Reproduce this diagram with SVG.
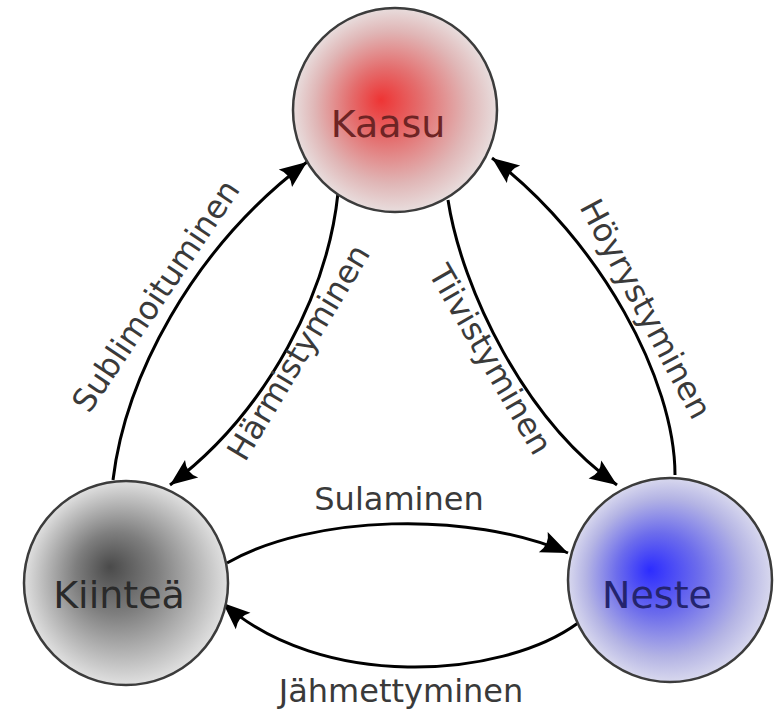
<svg xmlns="http://www.w3.org/2000/svg" width="777" height="712" viewBox="0 0 777 712">
  <style>
    .node { stroke: #3c3c3c; stroke-width: 2.5; }
    .nlabel { font-family: "DejaVu Sans", "Liberation Sans", sans-serif; font-size: 38px; text-anchor: middle; }
    .elabel { font-family: "DejaVu Sans", "Liberation Sans", sans-serif; font-size: 32px; text-anchor: middle; fill: #3a3a3a; }
    .edge { fill: none; stroke: #000; stroke-width: 3; marker-end: url(#arrow); }
  </style>
  <defs>
    <radialGradient id="gRed" cx="0.5" cy="0.5" r="0.5" fx="0.43" fy="0.45">
      <stop offset="0" stop-color="#ee3434"/>
      <stop offset="0.35" stop-color="#e46e6e"/>
      <stop offset="0.75" stop-color="#e0b6b6"/>
      <stop offset="1" stop-color="#e8dddd"/>
    </radialGradient>
    <radialGradient id="gGray" cx="0.5" cy="0.5" r="0.5" fx="0.42" fy="0.42">
      <stop offset="0" stop-color="#4a4a4a"/>
      <stop offset="0.4" stop-color="#7e7e7e"/>
      <stop offset="0.78" stop-color="#bcbcbc"/>
      <stop offset="1" stop-color="#e0e0e0"/>
    </radialGradient>
    <radialGradient id="gBlue" cx="0.5" cy="0.5" r="0.5" fx="0.4" fy="0.45">
      <stop offset="0" stop-color="#2c2cff"/>
      <stop offset="0.4" stop-color="#6c6cec"/>
      <stop offset="0.78" stop-color="#b4b4e4"/>
      <stop offset="1" stop-color="#d8d8ee"/>
    </radialGradient>
    <marker id="arrow" markerUnits="userSpaceOnUse" viewBox="-30 -13 32 26" markerWidth="32" markerHeight="26" refX="0" refY="0" orient="auto">
      <path d="M0,0 L-27,-11 Q-20,0 -27,11 Z" fill="#000"/>
    </marker>
  </defs>

  <g id="connectors">
    <path id="e-sublimoituminen" class="edge" d="M113,480 C125,380 190,250 307,162"/>
    <path id="e-harmistyminen" class="edge" d="M338,193 C328,290 270,410 170,485"/>
    <path id="e-tiivistyminen" class="edge" d="M448,200 C462,290 525,420 617,485"/>
    <path id="e-hoyrystyminen" class="edge" d="M675,475 C675,380 600,240 492,158"/>
    <path id="e-sulaminen" class="edge" d="M227,563 C310,515 470,510 568,553"/>
    <path id="e-jahmettyminen" class="edge" d="M578,623 C500,680 320,690 223,603"/>
    <text class="elabel" transform="translate(165,302) rotate(-56)">Sublimoituminen</text>
    <text class="elabel" transform="translate(308,358) rotate(-59)">Härmistyminen</text>
    <text class="elabel" transform="translate(481,365) rotate(60)">Tiivistyminen</text>
    <text class="elabel" transform="translate(636,314) rotate(62)">Höyrystyminen</text>
    <text class="elabel" x="399" y="510">Sulaminen</text>
    <text class="elabel" x="401" y="702">Jähmettyminen</text>
  </g>

  <g id="kaasu">
    <circle class="node" cx="395" cy="110" r="102" fill="url(#gRed)"/>
    <text class="nlabel" x="388" y="137" fill="#6e2424">Kaasu</text>
  </g>
  <g id="kiintea">
    <circle class="node" cx="126" cy="583" r="102" fill="url(#gGray)"/>
    <text class="nlabel" x="119" y="608" fill="#2a2a2a">Kiinteä</text>
  </g>
  <g id="neste">
    <circle class="node" cx="670" cy="580" r="102" fill="url(#gBlue)"/>
    <text class="nlabel" x="657" y="608" fill="#24246e">Neste</text>
  </g>
</svg>
